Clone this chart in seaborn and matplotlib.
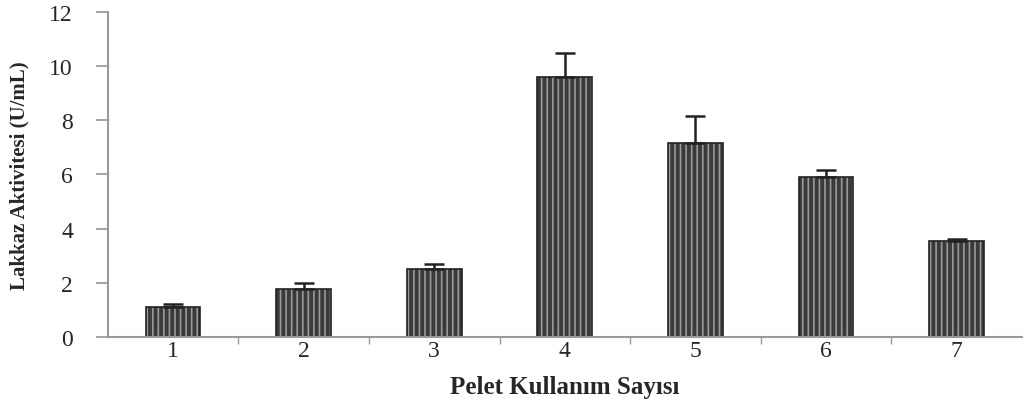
import matplotlib
matplotlib.use("Agg")
import matplotlib.pyplot as plt
import seaborn as sns
import numpy as np
import pandas as pd

categories = ["1", "2", "3", "4", "5", "6", "7"]
values = [1.1, 1.77, 2.5, 9.6, 7.16, 5.9, 3.54]
errors = [0.1, 0.22, 0.18, 0.9, 1.0, 0.27, 0.08]
y_ticks = [0, 2, 4, 6, 8, 10, 12]

sns.set_theme(style="white")
plt.rcParams['font.family'] = ['Liberation Serif', 'DejaVu Serif']
plt.rcParams['hatch.color'] = '#9a9a9a'
plt.rcParams['hatch.linewidth'] = 1.2

df = pd.DataFrame({"cat": categories, "val": values})
fig = plt.figure(figsize=(10.26, 4.14), dpi=100)
ax = fig.add_axes([0.105, 0.1836, 0.891, 0.785])

sns.barplot(data=df, x="cat", y="val", color="#3a3a3a", width=0.42,
            errorbar=None, ax=ax, saturation=1)
for p in ax.patches:
    p.set_hatch('|||')
    p.set_edgecolor('#9a9a9a')
    p.set_linewidth(0)
# outline bars
sns.barplot(data=df, x="cat", y="val", fill=False, width=0.42, errorbar=None,
            ax=ax, edgecolor='#222222', linewidth=1.2)

xs = np.arange(len(categories))
ax.errorbar(xs, values, yerr=[np.zeros(len(errors)), errors], fmt='none',
            ecolor='#222222', elinewidth=1.8, capsize=7, capthick=1.8)

ax.set_xlim(-0.5, len(categories) - 0.5)
ax.set_ylim(0, 12)
ax.set_yticks(y_ticks)
ax.set_yticklabels([str(t) for t in y_ticks], fontsize=17)
ax.set_xticks(xs)
ax.set_xticklabels(categories, fontsize=17)
ax.tick_params(axis='x', length=0, pad=2)
ax.set_xticks(np.arange(0.5, len(categories) - 0.5, 1), minor=True)
ax.tick_params(axis='x', which='minor', length=5, color='#999999', direction='out', bottom=True)
ax.tick_params(axis='y', length=9, color='#999999', direction='out', left=True, pad=16)

for s in ['top', 'right']:
    ax.spines[s].set_visible(False)
for s in ['left', 'bottom']:
    ax.spines[s].set_color('#999999')
    ax.spines[s].set_linewidth(1.5)

ax.set_ylabel("Lakkaz Aktivitesi (U/mL)", fontsize=15, fontweight='bold', labelpad=14)
ax.set_xlabel("Pelet Kullanım Sayısı", fontsize=18, fontweight='bold', labelpad=10)

fig.savefig("out.png", dpi=100)
